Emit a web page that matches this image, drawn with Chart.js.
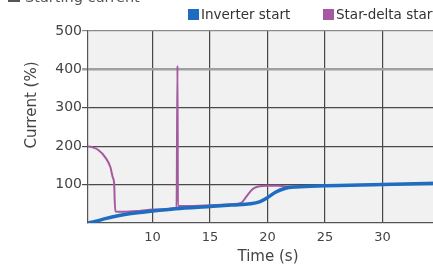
<!DOCTYPE html>
<html>
<head>
<meta charset="utf-8">
<script src="https://cdn.jsdelivr.net/npm/chart.js@4"></script>
<style>
  html, body { margin: 0; padding: 0; background: #fff; overflow: hidden; }
  #wrap { width: 433px; height: 269px; overflow: hidden; }
</style>
</head>
<body>
<div id="wrap"><canvas id="startChart" width="455" height="269" style="width:455px;height:269px"></canvas></div>
<script>
// series names, axis ticks
const seriesNames = ["Inverter start", "Star-delta start"];
const seriesColors = ["#1f6dc0", "#a55a9f"];
const xTicks = [10, 15, 20, 25, 30];
const yTicks = [100, 200, 300, 400, 500];

const invTime    = [4.4, 5, 6, 7, 8, 10, 12, 15, 17, 18.5, 19.3, 20, 20.7, 21.5, 22.5, 25, 30, 35.7];
const invCurrent = [0, 4, 12, 19, 24, 31, 37, 43, 47, 50, 55, 66, 80, 90, 94, 97, 100, 104];

const sdTime    = [4.4, 4.8, 5.3, 5.9, 6.35, 6.55, 6.68, 6.72, 6.78, 7.5, 9, 10, 12.1, 12.18, 12.22, 13, 15, 17, 17.7, 18.2, 18.7, 19.2, 20, 21, 22, 25, 30, 35.7];
const sdCurrent = [200, 197, 190, 171, 145, 119, 100, 60, 30, 29, 32, 35, 40, 410, 44, 44, 46, 49, 52, 70, 88, 95, 97, 97, 95, 97, 100, 104];

const toPoints = (xs, ys) => xs.map((x, i) => ({x: x, y: ys[i]}));

const extras = {
    id: 'extras',
    beforeDraw(chart) {
        const {ctx, chartArea} = chart;
        ctx.save();
        ctx.fillStyle = '#f1f1f1';
        ctx.fillRect(chartArea.left, chartArea.top, chartArea.right - chartArea.left, chartArea.bottom - chartArea.top);
        ctx.restore();
    },
    afterDraw(chart) {
        const ctx = chart.ctx;
        ctx.save();
        // header, cut at the top edge
        ctx.fillStyle = '#555';
        ctx.fillRect(8, -7, 12, 9);
        ctx.font = '14.5px "DejaVu Sans"';
        ctx.textBaseline = 'alphabetic';
        ctx.fillText('Starting current', 25, 2);

        // legend
        const legendX = [188, 323];
        ctx.font = '13.5px "DejaVu Sans"';
        ctx.textBaseline = 'middle';
        chart.data.datasets.forEach((ds, i) => {
            ctx.fillStyle = ds.borderColor;
            ctx.fillRect(legendX[i], 9, 11, 11);
            ctx.fillStyle = '#333';
            ctx.fillText(ds.label, legendX[i] + 13, 15);
        });

        // y axis title
        ctx.translate(32, 105);
        ctx.rotate(-Math.PI / 2);
        ctx.font = '15px "DejaVu Sans"';
        ctx.textAlign = 'center';
        ctx.fillStyle = '#444';
        ctx.fillText('Current (%)', 0, 0);
        ctx.restore();
    }
};

document.addEventListener('DOMContentLoaded', function() {
    const ctx = document.getElementById('startChart');

    new Chart(ctx, {
        type: 'line',
        data: {
            datasets: [{
                label: seriesNames[0],
                data: toPoints(invTime, invCurrent),
                borderColor: seriesColors[0],
                backgroundColor: seriesColors[0],
                borderWidth: 3.5,
                pointRadius: 0,
                cubicInterpolationMode: 'monotone'
            }, {
                label: seriesNames[1],
                data: toPoints(sdTime, sdCurrent),
                borderColor: seriesColors[1],
                backgroundColor: seriesColors[1],
                borderWidth: 2,
                pointRadius: 0,
                cubicInterpolationMode: 'monotone'
            }]
        },
        options: {
            responsive: false,
            animation: false,
            devicePixelRatio: 1,
            layout: {padding: {top: 31, right: 7, left: 0, bottom: 0}},
            plugins: {
                legend: {display: false},
                tooltip: {enabled: false}
            },
            scales: {
                x: {
                    type: 'linear',
                    min: 4.4,
                    max: 35.7,
                    afterBuildTicks: s => { s.ticks = xTicks.map(v => ({value: v})); },
                    afterFit: s => { s.height = 46; },
                    grid: {color: '#474747', lineWidth: 1.2, drawTicks: false},
                    border: {color: '#555', width: 1.2},
                    ticks: {
                        padding: 7,
                        color: '#444',
                        font: {family: '"DejaVu Sans"', size: 13}
                    },
                    title: {
                        display: true,
                        text: 'Time (s)',
                        color: '#444',
                        padding: {top: 0, bottom: 3},
                        font: {family: '"DejaVu Sans"', size: 15}
                    }
                },
                y: {
                    min: 0,
                    max: 500,
                    afterBuildTicks: s => { s.ticks = yTicks.map(v => ({value: v})); },
                    afterFit: s => { s.width = 88; },
                    grid: {
                        color: c => c.tick && c.tick.value === 400 ? '#a0a0a0' : (c.tick && c.tick.value === 500 ? '#8a8a8a' : '#4a4a4a'),
                        lineWidth: c => c.tick && c.tick.value === 400 ? 2.5 : 1.2,
                        tickLength: 6
                    },
                    border: {color: '#555', width: 1.2},
                    ticks: {
                        padding: 0,
                        color: '#444',
                        font: {family: '"DejaVu Sans"', size: 14}
                    }
                }
            }
        },
        plugins: [extras]
    });
});
</script>
</body>
</html>
